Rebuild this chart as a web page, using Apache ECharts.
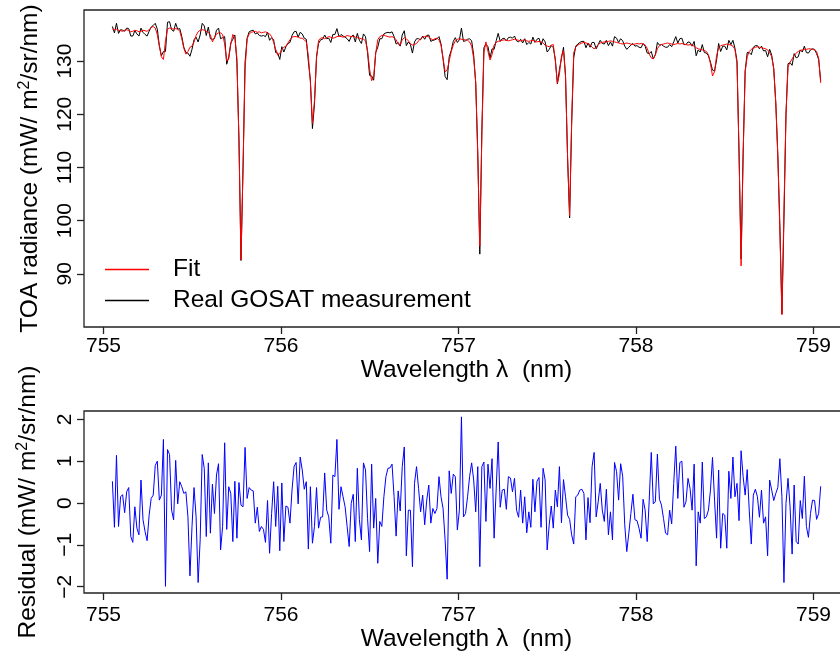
<!DOCTYPE html>
<html><head><meta charset="utf-8">
<script src="https://cdn.jsdelivr.net/npm/echarts@6/dist/echarts.min.js"></script>
<style>html,body{margin:0;padding:0;background:#fff}#chart{width:840px;height:652px}</style>
</head><body><div id="chart"></div>
<script>
// Wavelength grid (nm): first sample and spacing of the spectrum
const WAVELENGTH_START = 755.05;
const WAVELENGTH_STEP = 0.0115;

// Fitted TOA radiance (mW/m^2/sr/nm)
const fitRadiance = [
136.0,135.9,136.0,135.8,135.7,135.6,135.8,135.9,135.7,135.5,
135.6,135.8,135.7,135.5,135.6,135.8,135.7,135.6,135.9,136.3,
136.5,136.2,135.0,132.8,130.8,130.3,133.8,136.0,136.2,136.1,
136.0,136.1,136.0,135.6,134.2,132.4,131.3,131.8,132.6,132.8,
133.6,134.8,135.5,135.8,135.9,135.8,135.6,135.4,134.9,133.6,
134.4,135.1,135.3,135.3,135.0,133.2,130.0,130.4,133.2,135.0,
134.4,130.5,115.0,92.6,110.0,128.5,134.2,135.1,135.4,135.5,
135.6,135.4,135.5,135.3,135.4,135.5,135.3,135.1,134.6,133.5,
132.2,131.1,131.4,132.2,132.6,132.8,133.4,134.0,134.5,134.6,
134.6,134.5,134.3,134.3,134.0,133.6,131.0,126.0,118.3,122.5,
130.5,133.9,134.3,134.4,134.2,134.4,134.6,134.5,134.3,134.4,
134.6,134.7,134.6,134.5,134.6,134.8,134.7,134.6,134.7,134.5,
134.4,134.3,134.2,134.1,133.8,132.0,128.5,126.3,127.0,131.5,
134.0,134.6,134.8,134.9,134.7,134.6,134.5,134.6,134.4,134.0,
133.2,133.0,134.0,134.4,134.2,133.8,133.3,133.0,133.1,133.3,
133.8,134.2,134.5,134.6,134.7,134.5,134.2,134.0,134.2,134.3,
134.0,133.0,130.5,128.0,128.3,130.0,131.8,133.0,133.8,134.1,
134.2,134.1,134.0,134.0,133.9,133.6,132.8,130.5,126.0,112.0,
95.2,116.0,131.5,133.6,131.8,130.2,131.2,133.0,133.5,133.7,
133.8,133.9,134.0,133.9,133.8,133.9,134.0,134.1,134.0,133.9,
133.8,133.9,134.0,133.8,133.7,133.8,133.9,133.7,133.6,133.7,
133.6,133.4,133.0,132.8,132.7,133.0,133.1,130.0,125.8,127.5,
131.0,132.0,127.0,112.0,100.9,119.0,131.6,132.6,133.0,133.2,
133.4,133.5,133.4,133.3,133.1,132.6,132.3,132.6,133.1,133.4,
133.5,133.6,133.6,133.7,133.8,133.7,133.6,133.5,133.4,133.3,
133.2,133.3,133.4,133.3,133.2,133.1,133.2,133.3,133.2,133.3,
133.2,133.0,132.4,131.3,130.6,130.4,131.2,132.3,132.9,133.1,
133.2,133.3,133.4,133.3,133.2,133.1,133.2,133.3,133.2,133.3,
133.2,133.1,133.0,133.1,133.0,132.8,132.5,132.3,132.2,132.1,
132.0,131.8,131.2,129.5,127.2,128.0,131.0,132.5,132.9,133.0,
133.1,133.2,133.1,133.0,132.8,132.2,129.5,113.0,91.5,112.0,
128.0,130.8,131.8,132.2,132.4,132.6,132.7,132.6,132.5,132.4,
132.3,132.1,131.6,130.8,128.5,122.0,112.0,98.0,82.3,102.0,
120.0,128.9,129.8,130.4,131.0,131.5,131.8,132.0,132.1,132.2,
132.2,132.3,132.3,132.2,132.1,131.8,130.5,125.9
];

// Real GOSAT measured TOA radiance (mW/m^2/sr/nm)
const measuredRadiance = [
136.5,135.3,137.1,135.2,135.9,135.8,135.6,136.2,136.1,134.7,
134.7,135.7,135.1,134.7,136.2,135.4,135.0,134.7,135.6,136.4,
136.7,137.1,136.0,132.9,131.0,131.8,131.8,137.3,137.4,135.9,
135.6,137.1,136.0,136.1,134.6,132.6,131.6,131.5,130.9,132.2,
134.0,134.5,133.6,134.9,137.1,136.6,134.8,136.4,134.2,134.1,
134.2,135.8,136.2,134.2,134.4,134.6,129.4,130.8,133.4,134.1,
134.9,129.7,115.5,92.5,109.9,129.8,134.3,135.5,135.7,135.8,
135.1,135.3,134.8,134.7,134.8,134.6,135.4,133.9,134.4,134.0,
131.6,131.5,130.3,132.7,131.7,132.7,133.3,133.5,134.8,135.5,
135.6,134.5,135.4,135.1,134.3,134.1,129.9,126.4,117.3,121.9,
130.9,133.3,134.0,134.1,134.9,134.2,134.3,133.5,135.0,135.0,
136.1,134.6,135.0,134.7,134.5,134.2,133.7,134.6,134.9,133.6,
135.2,133.9,133.3,135.1,134.6,131.6,127.3,127.2,126.4,131.6,
132.6,134.2,134.2,135.1,135.3,135.4,135.3,135.5,134.6,133.2,
133.5,132.8,134.9,135.7,132.9,133.6,133.1,131.5,133.6,134.2,
134.2,134.0,134.7,134.1,134.8,134.9,133.7,133.9,134.0,134.2,
134.6,133.2,130.4,127.1,126.5,130.8,132.0,133.7,134.4,133.5,
134.0,136.2,133.7,133.8,134.1,134.2,133.8,131.1,125.8,112.9,
93.7,116.9,132.5,133.2,132.7,130.6,132.3,132.2,133.8,135.2,
133.7,134.2,134.3,133.8,134.4,134.5,134.3,134.7,133.8,133.6,
134.1,133.4,134.2,133.1,133.5,133.2,134.5,133.5,134.1,134.3,
133.0,134.2,133.6,131.7,132.2,132.9,132.5,130.3,125.7,128.4,
130.5,132.6,127.2,111.7,100.5,118.2,130.6,132.8,133.2,133.5,
133.7,133.7,132.5,133.4,132.6,133.5,133.5,132.3,133.1,133.9,
133.3,133.2,133.9,132.9,133.6,132.8,134.6,134.3,133.5,134.2,
133.8,132.8,132.2,132.6,133.0,133.3,132.8,132.9,132.6,132.5,
133.3,132.8,131.5,131.4,131.8,130.4,131.2,133.5,133.0,133.1,
132.8,132.6,132.6,133.1,132.7,133.6,134.6,133.4,134.2,134.3,
133.1,133.1,133.6,133.5,132.8,133.7,131.0,132.1,131.7,133.1,
131.6,131.5,131.0,129.8,128.3,128.1,130.2,133.3,131.8,132.8,
132.8,132.1,133.9,133.1,133.9,132.4,130.0,112.6,92.8,112.6,
128.2,131.6,131.6,131.2,132.6,132.9,132.9,132.3,132.8,131.9,
132.0,130.8,132.2,131.1,128.6,122.2,112.4,99.1,82.5,100.1,
120.0,129.5,129.7,129.2,131.4,130.6,130.8,132.1,131.7,132.8,
131.6,131.5,132.1,132.3,132.2,131.4,130.3,126.3
];

// Residual (mW/m^2/sr/nm)
const residual = [
0.52,-0.58,1.14,-0.56,0.15,0.2,-0.23,0.27,0.37,-0.8,
-0.94,-0.09,-0.6,-0.76,0.55,-0.4,-0.68,-0.9,-0.29,0.11,
0.19,0.9,1.0,0.07,0.19,1.52,-1.99,1.28,1.16,-0.17,
-0.4,1.02,-0.02,0.51,0.39,0.23,0.27,-0.33,-1.74,-0.56,
0.37,-0.33,-1.9,-0.88,1.16,0.83,-0.8,0.96,-0.72,0.45,
-0.25,0.67,0.94,-1.12,-0.56,1.44,-0.63,0.39,0.23,-0.92,
0.52,-0.84,0.49,-0.05,-0.09,1.33,0.11,0.37,0.31,0.29,
-0.48,-0.1,-0.68,-0.56,-0.63,-0.94,0.06,-1.2,-0.25,0.51,
-0.56,0.4,-1.14,0.48,-0.92,-0.07,-0.1,-0.48,0.31,0.87,
0.97,-0.02,1.1,0.79,0.33,0.51,-1.1,0.39,-0.96,-0.56,
0.37,-0.6,-0.34,-0.33,0.72,-0.17,-0.33,-0.96,0.67,0.63,
1.52,-0.15,0.39,0.15,-0.09,-0.56,-1.04,-0.01,0.21,-0.92,
0.83,-0.4,-0.88,0.96,0.79,-0.37,-1.16,0.93,-0.6,0.11,
-1.44,-0.44,-0.56,0.15,0.63,0.83,0.84,0.93,0.15,-0.79,
0.29,-0.19,0.87,1.34,-1.26,-0.17,-0.17,-1.52,0.47,0.87,
0.35,-0.21,0.19,-0.52,0.07,0.43,-0.48,-0.13,-0.25,-0.13,
0.63,0.15,-0.13,-0.88,-1.82,0.77,0.23,0.69,0.63,-0.64,
-0.17,2.06,-0.33,-0.25,0.15,0.63,0.96,0.55,-0.21,0.87,
-1.52,0.87,0.98,-0.44,0.93,0.35,1.06,-0.84,0.31,1.46,
-0.1,0.31,0.33,-0.15,0.63,0.6,0.27,0.59,-0.17,-0.34,
0.31,-0.48,0.15,-0.71,-0.21,-0.58,0.57,-0.21,0.52,0.61,
-0.58,0.83,0.55,-1.12,-0.52,-0.07,-0.6,0.31,-0.09,0.87,
-0.47,0.56,0.15,-0.29,-0.39,-0.76,-0.98,0.15,0.19,0.31,
0.33,0.23,-0.88,0.13,-0.47,0.87,1.21,-0.33,0.03,0.47,
-0.17,-0.44,0.33,-0.76,-0.21,-0.88,0.97,0.75,0.07,0.94,
0.64,-0.52,-1.16,-0.72,-0.25,0.21,-0.4,-0.42,-0.6,-0.84,
0.09,-0.17,-0.92,0.07,1.21,-0.02,0.03,1.17,0.09,-0.05,
-0.37,-0.72,-0.76,-0.17,-0.5,0.47,1.36,0.11,0.97,1.0,
-0.1,0.03,0.59,0.35,-0.17,0.93,-1.5,-0.21,-0.48,0.98,
-0.37,-0.33,-0.17,0.31,1.09,0.07,-0.84,0.79,-1.08,-0.25,
-0.29,-1.08,0.76,0.11,1.1,0.15,0.47,-0.42,1.25,0.63,
0.19,0.8,-0.17,-0.98,0.19,0.33,0.15,-0.34,0.31,-0.48,
-0.33,-1.26,0.55,0.31,0.06,0.23,0.37,1.06,0.15,-1.9,
-0.01,0.59,-0.09,-1.22,0.43,-0.92,-0.98,0.06,-0.37,0.64,
-0.56,-0.82,-0.25,0.07,0.06,-0.39,-0.25,0.4
];

// Tick labels
const wavelengthTicks = [755, 756, 757, 758, 759];
const radianceTicks = [90, 100, 110, 120, 130];
const residualTicks = [-2, -1, 0, 1, 2];

const seriesNames = ['Fit', 'Real GOSAT measurement'];

const wavelength = fitRadiance.map((_, i) => +(WAVELENGTH_START + i * WAVELENGTH_STEP).toFixed(4));
const pairs = arr => arr.map((v, i) => [wavelength[i], v]);

const FONT = '"Liberation Sans", Arial, Helvetica, sans-serif';
const AX = '#222';
const TICK_FS = 21;
const TITLE_FS = 24.5;
const minus = v => String(v).replace('-', '\u2212');

function xAxisCfg(gi, labelMargin, nameGap) {
  return {
    type: 'value', gridIndex: gi, min: 754.89, max: 759.2,
    name: 'Wavelength \u03bb  (nm)', nameLocation: 'middle', nameGap: nameGap,
    nameTextStyle: { fontFamily: FONT, fontSize: TITLE_FS, color: '#000' },
    axisLine: { show: false, onZero: false }, splitLine: { show: false },
    axisTick: { show: true, length: 7, lineStyle: { color: AX, width: 1.3 }, customValues: wavelengthTicks },
    axisLabel: { fontFamily: FONT, fontSize: TICK_FS, color: '#000', margin: labelMargin, customValues: wavelengthTicks, formatter: v => String(v) }
  };
}
function yAxisCfg(gi, min, max, ticks, name, gap) {
  return {
    type: 'value', gridIndex: gi, min: min, max: max,
    name: name, nameLocation: 'middle', nameRotate: 90, nameGap: gap,
    nameTextStyle: { fontFamily: FONT, fontSize: TITLE_FS, color: '#000', lineHeight: 27,
      rich: { sup: { fontFamily: FONT, fontSize: 16, lineHeight: 10, verticalAlign: 'top', color: '#000' } } },
    axisLine: { show: false, onZero: false }, splitLine: { show: false },
    axisTick: { show: true, length: 7, lineStyle: { color: AX, width: 1.3 }, customValues: ticks },
    axisLabel: { fontFamily: FONT, fontSize: TICK_FS, color: '#000', rotate: 90, margin: 8, customValues: ticks, formatter: minus }
  };
}

const chart = echarts.init(document.getElementById('chart'), null, { renderer: 'canvas' });
chart.setOption({
  animation: false,
  backgroundColor: '#fff',
  grid: [
    { left: 84, top: 10, width: 765, height: 317, show: true, borderColor: AX, borderWidth: 1.3,
      backgroundColor: 'transparent', outerBoundsMode: 'none', containLabel: false },
    { left: 84, top: 411, width: 765, height: 182, show: true, borderColor: AX, borderWidth: 1.3,
      backgroundColor: 'transparent', outerBoundsMode: 'none', containLabel: false }
  ],
  xAxis: [xAxisCfg(0, 9, 30), xAxisCfg(1, 12, 33)],
  yAxis: [
    yAxisCfg(0, 80, 139.6, radianceTicks, 'TOA radiance (mW/ m{sup|2}/sr/nm)', 40),
    yAxisCfg(1, -2.15, 2.2, residualTicks, 'Residual (mW/ m{sup|2}/sr/nm)', 42)
  ],
  legend: {
    data: seriesNames, orient: 'vertical', left: 105, top: 257, padding: 0,
    icon: 'rect', itemWidth: 44, itemHeight: 1.4, itemGap: 6, selectedMode: false,
    textStyle: { fontFamily: FONT, fontSize: TITLE_FS, color: '#000', lineHeight: 24, padding: [0, 0, 0, 19] }
  },
  series: [
    { name: seriesNames[1], type: 'line', xAxisIndex: 0, yAxisIndex: 0, data: pairs(measuredRadiance),
      symbol: 'none', showSymbol: false, lineStyle: { color: '#000', width: 1 }, itemStyle: { color: '#000' } },
    { name: seriesNames[0], type: 'line', xAxisIndex: 0, yAxisIndex: 0, data: pairs(fitRadiance),
      symbol: 'none', showSymbol: false, lineStyle: { color: '#ff0000', width: 1 }, itemStyle: { color: '#ff0000' } },
    { name: 'Residual', type: 'line', xAxisIndex: 1, yAxisIndex: 1, data: pairs(residual),
      symbol: 'none', showSymbol: false, lineStyle: { color: '#0000ff', width: 1 }, itemStyle: { color: '#0000ff' } }
  ]
});
</script>
</body></html>
